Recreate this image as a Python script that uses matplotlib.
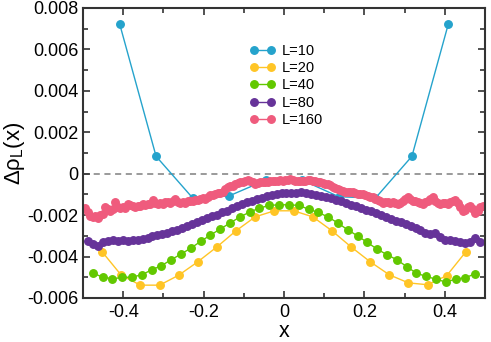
import numpy as np
import matplotlib

matplotlib.use("Agg")
import matplotlib.pyplot as plt
from matplotlib.ticker import MultipleLocator, FuncFormatter

plt.rcParams["font.family"] = ["Liberation Sans", "DejaVu Sans"]
plt.rcParams["mathtext.fontset"] = "custom"
plt.rcParams["mathtext.rm"] = "Liberation Sans"
plt.rcParams["axes.unicode_minus"] = False

# system sizes and colours
sizes = [10, 20, 40, 80, 160]
labels = ["L=10", "L=20", "L=40", "L=80", "L=160"]
colors = ["#25a3cc", "#ffc526", "#62c800", "#663399", "#ef5b7d"]

# delta rho_L(x) in units of 1e-3, site positions x = (i - (L+1)/2) / (L+1)
drho_10 = [7.25, 0.84, -1.17, -1.07, -0.31, -0.31, -1.11, -1.18, 0.84, 7.25]

drho_20 = [-3.77, -4.90, -5.38, -5.38, -4.90, -4.25, -3.53, -2.75, -2.08, -1.79,
           -1.79, -2.08, -2.75, -3.53, -4.25, -4.88, -5.27, -5.36, -4.92, -3.77]

drho_40 = [-4.80, -4.99, -5.07, -5.01, -4.99, -4.88, -4.64, -4.44, -4.15, -3.88,
           -3.59, -3.27, -2.96, -2.67, -2.38, -2.09, -1.85, -1.66, -1.53, -1.50,
           -1.50, -1.53, -1.71, -1.87, -2.09, -2.38, -2.71, -3.00, -3.32, -3.64,
           -3.91, -4.15, -4.48, -4.80, -4.96, -5.09, -5.23, -5.09, -5.02, -4.83]

drho_80 = [-3.25, -3.38, -3.48, -3.30, -3.24, -3.22, -3.23, -3.21, -3.24, -3.20,
           -3.18, -3.14, -3.08, -3.02, -2.97, -2.90, -2.84, -2.77, -2.70, -2.60,
           -2.52, -2.44, -2.33, -2.25, -2.16, -2.06, -1.97, -1.87, -1.78, -1.66,
           -1.58, -1.48, -1.38, -1.30, -1.22, -1.15, -1.08, -1.02, -0.97, -0.94,
           -0.92, -0.92, -0.91, -0.90, -0.93, -0.96, -1.01, -1.07, -1.12, -1.19,
           -1.26, -1.34, -1.42, -1.50, -1.58, -1.66, -1.74, -1.82, -1.90, -1.98,
           -2.10, -2.20, -2.26, -2.34, -2.42, -2.52, -2.64, -2.74, -2.84, -2.90,
           -2.85, -3.05, -3.18, -3.22, -3.27, -3.32, -3.33, -3.28, -3.10, -3.28]

drho_160 = [-1.64, -1.85, -2.02, -2.10, -2.05, -2.12, -2.00, -1.95, -1.62, -1.72,
            -1.80, -1.70, -1.36, -1.60, -1.66, -1.62, -1.66, -1.45, -1.52, -1.58,
            -1.62, -1.56, -1.55, -1.48, -1.50, -1.45, -1.47, -1.28, -1.40, -1.44,
            -1.40, -1.46, -1.38, -1.35, -1.42, -1.30, -1.22, -1.35, -1.40, -1.36,
            -1.42, -1.33, -1.30, -1.34, -1.26, -1.25, -1.22, -1.18, -1.20, -1.12,
            -1.05, -1.02, -0.98, -0.95, -0.93, -0.90, -0.75, -0.62, -0.60, -0.58,
            -0.48, -0.45, -0.40, -0.38, -0.35, -0.30, -0.35, -0.42, -0.48, -0.45,
            -0.40, -0.42, -0.38, -0.40, -0.36, -0.34, -0.35, -0.33, -0.32, -0.34,
            -0.32, -0.30, -0.24, -0.28, -0.33, -0.35, -0.36, -0.34, -0.33, -0.32,
            -0.32, -0.34, -0.36, -0.38, -0.40, -0.44, -0.48, -0.52, -0.56, -0.62,
            -0.70, -0.76, -0.81, -0.84, -0.86, -0.88, -0.90, -0.89, -0.92, -0.96,
            -1.00, -0.98, -1.04, -1.08, -1.12, -1.14, -1.20, -1.26, -1.34, -1.40,
            -1.38, -1.36, -1.40, -1.38, -1.42, -1.44, -1.40, -1.30, -1.20, -1.12,
            -1.22, -1.30, -1.34, -1.38, -1.42, -1.44, -1.36, -1.30, -1.20, -1.14,
            -1.30, -1.40, -1.45, -1.40, -1.42, -1.45, -1.38, -1.32, -1.28, -1.40,
            -1.60, -1.82, -1.75, -1.62, -1.55, -1.70, -1.88, -1.80, -1.62, -1.58]

series = [drho_10, drho_20, drho_40, drho_80, drho_160]


def _fmt(v, _pos):
    v = round(v, 6)
    if v == 0:
        return "0"
    return f"{v:g}"


fig = plt.figure(figsize=(4.91, 3.42), dpi=100)
ax = fig.add_axes([83 / 491, 44 / 342, 402 / 491, 290 / 342])

ax.axhline(0, color="#7f7f7f", lw=1.1, ls=(0, (4, 3)), zorder=1)

for L, vals, lab, col in zip(sizes, series, labels, colors):
    x = (np.arange(1, L + 1) - (L + 1) / 2) / (L + 1)
    ax.plot(x, np.array(vals) * 1e-3, "-o", color=col, lw=1.0, ms=5.4,
            mec=col, label=lab, zorder=2)

ax.set_xlim(-0.5, 0.5)
ax.set_ylim(-0.006, 0.008)
ax.xaxis.set_major_locator(MultipleLocator(0.2))
ax.xaxis.set_minor_locator(MultipleLocator(0.1))
ax.yaxis.set_major_locator(MultipleLocator(0.002))
ax.yaxis.set_minor_locator(MultipleLocator(0.001))
ax.xaxis.set_major_formatter(FuncFormatter(_fmt))
ax.yaxis.set_major_formatter(FuncFormatter(_fmt))

ax.tick_params(which="both", direction="in", top=True, right=True, width=1.2,
               labelsize=13, color="#333333")
ax.tick_params(which="major", length=5)
ax.tick_params(which="minor", length=3.5)
ax.tick_params(axis="x", pad=4.5)
ax.tick_params(axis="y", pad=3.5)
for sp in ax.spines.values():
    sp.set_linewidth(1.5)
    sp.set_color("#333333")

ax.set_xlabel("x", fontsize=15.5)
ax.xaxis.set_label_coords(0.5, -0.081)
ax.set_ylabel("Δρ$_\\mathrm{L}$(x)", fontsize=16)
ax.yaxis.set_label_coords(-0.14, 0.5)

ax.legend(loc="upper left", bbox_to_anchor=(250 / 491, 1 - 44 / 342),
          bbox_transform=fig.transFigure, frameon=False, fontsize=10.5,
          handlelength=1.75, handletextpad=0.45, labelspacing=0.22,
          borderpad=0, borderaxespad=0, numpoints=2)

fig.savefig("out.png", dpi=100)
